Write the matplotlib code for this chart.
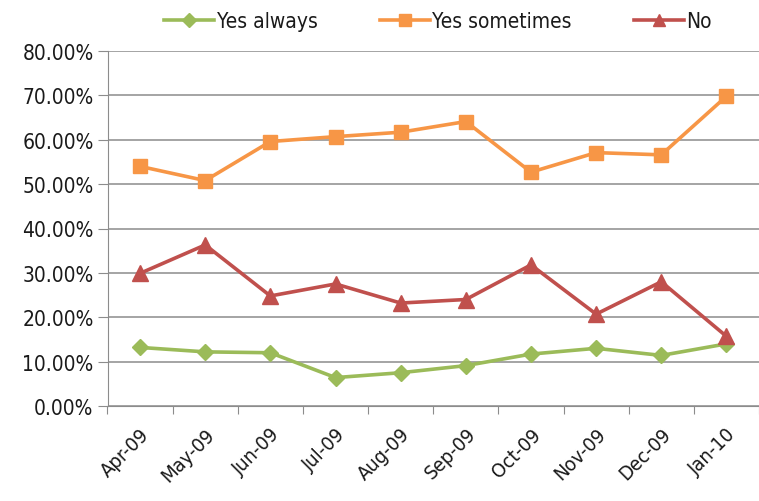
import numpy as np
import matplotlib.pyplot as plt
from matplotlib.ticker import FuncFormatter

months = ["Apr-09", "May-09", "Jun-09", "Jul-09", "Aug-09",
          "Sep-09", "Oct-09", "Nov-09", "Dec-09", "Jan-10"]
yes_always = [13.2, 12.2, 12.0, 6.4, 7.5, 9.1, 11.7, 13.0, 11.4, 14.0]
yes_sometimes = [54.0, 50.8, 59.6, 60.7, 61.7, 64.1, 52.7, 57.1, 56.6, 69.8]
no = [29.9, 36.3, 24.8, 27.5, 23.2, 24.0, 31.8, 20.7, 28.0, 15.7]

plt.rcParams['font.family'] = ['DejaVu Sans']
plt.rcParams['font.stretch'] = 'condensed'
plt.rcParams['text.color'] = '#1a1a1a'

fig = plt.figure(figsize=(7.59, 5.02), dpi=100)
ax = fig.add_axes([107.5 / 759, 1 - 407 / 502, (759 - 107.5) / 759, (407 - 52) / 502])

x = np.arange(len(months))
ax.plot(x, yes_always, color="#9BBB59", lw=2.6, marker="D", ms=8.5, label="Yes always")
ax.plot(x, yes_sometimes, color="#F79646", lw=2.6, marker="s", ms=10.5, label="Yes sometimes")
ax.plot(x, no, color="#C0504D", lw=2.6, marker="^", ms=11, label="No")

ax.set_ylim(0, 80)
ax.set_xlim(-0.5, len(months) - 0.5)
ax.set_yticks(np.arange(0, 81, 10))
ax.yaxis.set_major_formatter(FuncFormatter(lambda v, p: "%.2f%%" % v))
ax.grid(axis="y", color="#8c8c8c", lw=1.1)
ax.set_axisbelow(True)

# category boundaries carry the ticks, labels sit at the centres
ax.set_xticks(np.arange(-0.5, len(months), 1.0))
ax.set_xticklabels([])
ax.set_xticks(x, minor=True)
ax.set_xticklabels(months, minor=True, rotation=45, ha="right", va="top",
                   rotation_mode="anchor", fontsize=14.5)
ax.tick_params(axis="x", which="minor", length=0, pad=13, labelcolor="#1a1a1a")
ax.tick_params(axis="x", which="major", length=6, color="#8c8c8c")
ax.tick_params(axis="y", length=7, color="#8c8c8c", labelsize=15, pad=3,
               labelcolor="#1a1a1a")

for s in ["top", "right"]:
    ax.spines[s].set_visible(False)
ax.spines["left"].set_color("#8c8c8c")
ax.spines["bottom"].set_color("#8c8c8c")

leg = fig.legend(loc="center", bbox_to_anchor=(438 / 759, 1 - 22 / 502), ncol=3,
                 frameon=False, fontsize=15, columnspacing=3.0, handlelength=2.4,
                 handletextpad=0.1, markerscale=0.8)

fig.savefig("out.png", dpi=100)
